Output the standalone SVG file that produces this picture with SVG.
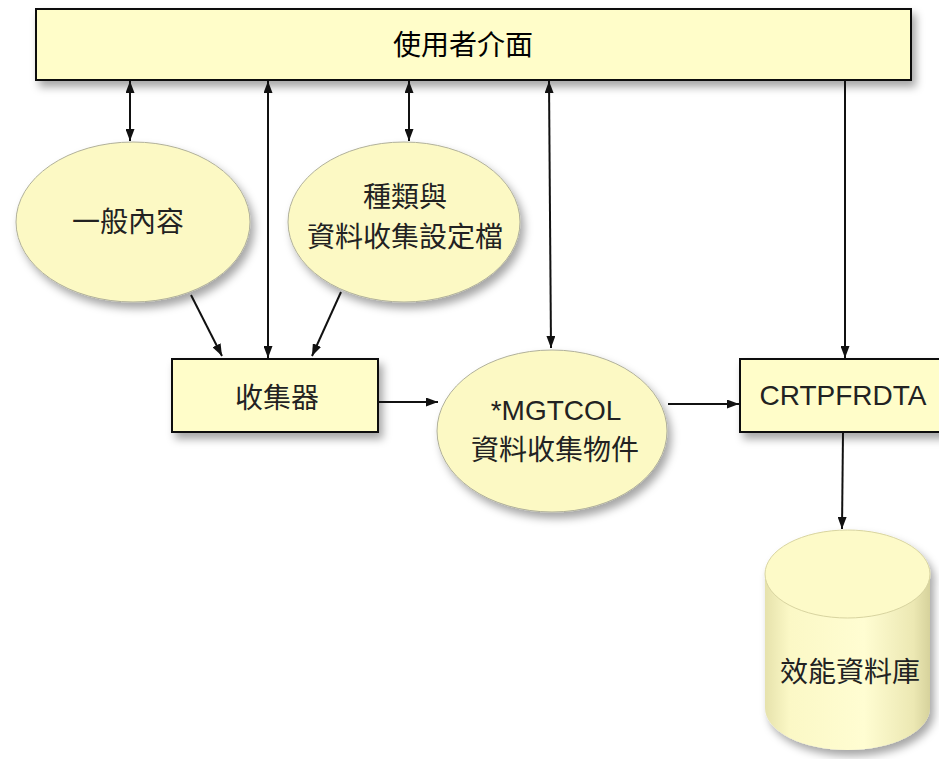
<svg xmlns="http://www.w3.org/2000/svg" width="939" height="759" viewBox="0 0 939 759">
<style>
.t{font-family:"Liberation Sans","Noto Sans CJK TC",sans-serif;font-size:28px;fill:#222;text-anchor:middle}
.box{fill:#FFFDC9;stroke:#111;stroke-width:2}
.ell{fill:#FCF9C4;stroke:#b0b09a;stroke-width:1}
.ln{stroke:#111;stroke-width:2;fill:none}
.one{marker-end:url(#ah)}
.two{marker-start:url(#ah);marker-end:url(#ah)}
</style>
<defs>
<filter id="sh" x="-20%" y="-20%" width="150%" height="160%">
<feDropShadow dx="4" dy="6" stdDeviation="4" flood-color="#000" flood-opacity="0.35"/>
</filter>
<marker id="ah" markerUnits="userSpaceOnUse" markerWidth="12" markerHeight="9" refX="12" refY="4.5" orient="auto-start-reverse" viewBox="0 0 12 9">
<path d="M0,0 L12,4.5 L0,9 z" fill="#111"/>
</marker>
<linearGradient id="cyl" x1="0" y1="0" x2="1" y2="0">
<stop offset="0" stop-color="#E6E2AC"/>
<stop offset="0.15" stop-color="#FBF8C6"/>
<stop offset="0.6" stop-color="#FFFDD2"/>
<stop offset="0.9" stop-color="#ECE8B3"/>
<stop offset="1" stop-color="#D6D29C"/>
</linearGradient>
</defs>
<g id="ui" filter="url(#sh)">
<rect class="box" x="36" y="9" width="875" height="71"/>
</g>
<text class="t" x="463" y="55" style="fill:#000">使用者介面</text>
<g id="general">
<ellipse class="ell" cx="133" cy="222" rx="117" ry="80" filter="url(#sh)"/>
<text class="t" x="128" y="232">一般內容</text>
</g>
<g id="profile">
<ellipse class="ell" cx="404" cy="222" rx="116" ry="80" filter="url(#sh)"/>
<text class="t" x="405" y="207">種類與</text>
<text class="t" x="405" y="247">資料收集設定檔</text>
</g>
<g id="collector">
<rect class="box" x="172" y="359" width="206" height="73" filter="url(#sh)"/>
<text class="t" x="277" y="408">收集器</text>
</g>
<g id="mgtcol">
<ellipse class="ell" cx="552" cy="431" rx="115" ry="81" filter="url(#sh)"/>
<text class="t" x="556" y="420">*MGTCOL</text>
<text class="t" x="555" y="460">資料收集物件</text>
</g>
<g id="crtpfrdta">
<rect class="box" x="740" y="359" width="210" height="73" filter="url(#sh)"/>
<text class="t" x="843" y="405">CRTPFRDTA</text>
</g>
<g id="perfdb">
<g filter="url(#sh)">
<path d="M765,574 L765,708 A82.5,42 0 0 0 930,708 L930,574 Z" fill="url(#cyl)"/>
<ellipse cx="847.5" cy="574" rx="82.5" ry="44" fill="#FDFAC8" stroke="#D8D4A0" stroke-width="1"/>
</g>
<text class="t" x="850" y="682">效能資料庫</text>
</g>
<g id="connectors">
<line class="ln two" x1="130" y1="81" x2="130" y2="141"/>
<line class="ln two" x1="268" y1="81" x2="268" y2="358"/>
<line class="ln two" x1="409" y1="81" x2="409" y2="141"/>
<line class="ln two" x1="549" y1="81" x2="551" y2="348"/>
<line class="ln one" x1="845" y1="80" x2="845" y2="358"/>
<line class="ln one" x1="191" y1="295" x2="222" y2="356"/>
<line class="ln one" x1="341" y1="292" x2="312" y2="356"/>
<line class="ln one" x1="378" y1="402" x2="438" y2="402"/>
<line class="ln one" x1="668" y1="404" x2="739" y2="404"/>
<line class="ln one" x1="843" y1="432" x2="842" y2="529"/>
</g>
</svg>
